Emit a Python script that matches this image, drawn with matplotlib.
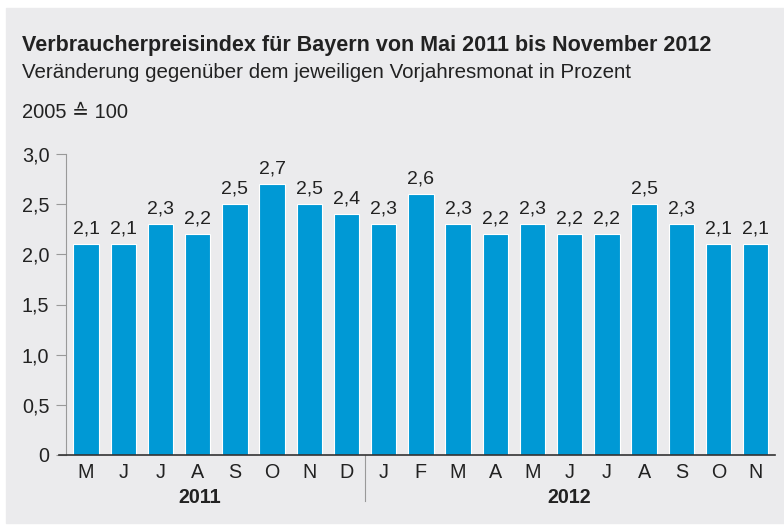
import matplotlib
matplotlib.use("Agg")
import matplotlib.pyplot as plt
from matplotlib.patches import Rectangle

plt.rcParams['font.family'] = ['Liberation Sans', 'DejaVu Sans']

months = ["M", "J", "J", "A", "S", "O", "N", "D",
          "J", "F", "M", "A", "M", "J", "J", "A", "S", "O", "N"]
values = [2.1, 2.1, 2.3, 2.2, 2.5, 2.7, 2.5, 2.4,
          2.3, 2.6, 2.3, 2.2, 2.3, 2.2, 2.2, 2.5, 2.3, 2.1, 2.1]
years = ["2011", "2012"]
year_pos = [3.05, 13.0]
yticks = [0, 0.5, 1.0, 1.5, 2.0, 2.5, 3.0]
ylabels = ["0", "0,5", "1,0", "1,5", "2,0", "2,5", "3,0"]

bg = "#ebebed"
blue = "#0099d5"
txt = "#222222"

fig = plt.figure(figsize=(7.84, 5.25), dpi=100, facecolor="white")
fig.patches.append(Rectangle((6 / 784, 2 / 525), 1, 1 - 10 / 525,
                             transform=fig.transFigure, color=bg, zorder=-10))

ax = fig.add_axes([66 / 784, 70 / 525, (775 - 66) / 784, (455 - 154) / 525])
ax.set_facecolor(bg)
x = list(range(len(values)))
ax.bar(x, values, width=0.68, color=blue, edgecolor="white", linewidth=0.8, zorder=2)
for xi, v in zip(x, values):
    ax.text(xi, v + 0.07, f"{v:.1f}".replace(".", ","), ha="center", va="bottom",
            fontsize=14, color=txt)

ax.set_xlim(-0.54, 18.52)
ax.set_ylim(0, 3)
ax.set_yticks(yticks)
ax.set_yticklabels(ylabels)
ax.set_xticks(x)
ax.set_xticklabels(months)
ax.tick_params(axis="y", length=7, width=0.8, color="#999999", labelsize=14.2,
               labelcolor=txt, pad=5)
ax.tick_params(axis="x", length=0, labelsize=14.2, labelcolor=txt, pad=6)

for s in ["top", "right"]:
    ax.spines[s].set_visible(False)
ax.spines["left"].set_color("#999999")
ax.spines["left"].set_linewidth(0.8)
ax.spines["bottom"].set_color("#333333")
ax.spines["bottom"].set_linewidth(1.2)
ax.spines["bottom"].set_bounds(-0.74, 18.52)
ax.spines["bottom"].set_zorder(3)

# Trennlinie zwischen den Jahren
ax.plot([7.5, 7.5], [0, -0.46], color="#999999", lw=0.8, clip_on=False)
for yr, p in zip(years, year_pos):
    ax.text(p, -0.42, yr, ha="center", va="center", fontsize=14.2,
            fontweight="bold", color=txt)

fig.text(22 / 784, 1 - 46 / 525, "Verbraucherpreisindex für Bayern von Mai 2011 bis November 2012",
         fontsize=15.5, fontweight="bold", color=txt, va="center")
fig.text(22 / 784, 1 - 72 / 525, "Veränderung gegenüber dem jeweiligen Vorjahresmonat in Prozent",
         fontsize=14.8, color=txt, va="center")
fig.text(22 / 784, 1 - 112 / 525, "2005 ≙ 100", fontsize=14.5, color=txt, va="center")

fig.savefig("out.png", dpi=100, facecolor=fig.get_facecolor())
